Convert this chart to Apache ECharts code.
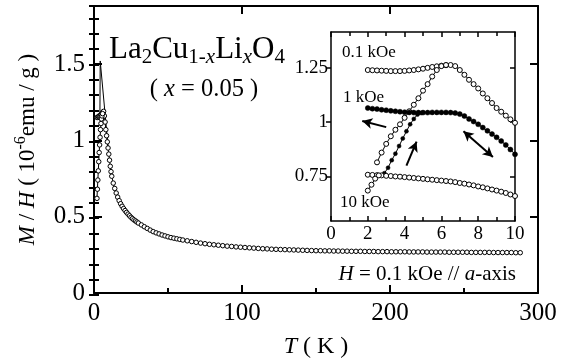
<!DOCTYPE html>
<html>
<head>
<meta charset="utf-8">
<script src="https://cdn.jsdelivr.net/npm/echarts@6/dist/echarts.min.js"></script>
<style>
  html, body { margin: 0; padding: 0; background: #fff; }
  #chart { width: 574px; height: 364px; }
</style>
</head>
<body>
<div id="chart"></div>
<script>
// main panel: M/H vs T (0.1 kOe), field cooled branch + high T
const fcT = [2, 2.5, 3, 3.5, 4, 4.5, 5, 5.5, 6, 6.5, 7, 7.5, 8, 8.5, 9, 9.5, 10, 10.5, 11, 11.5, 12,
  13, 14, 15, 16, 17, 18, 19, 20, 21, 22, 23, 24, 25, 26, 27, 28, 29, 30,
  32, 34, 36, 38, 40, 42, 44, 46, 48, 50, 52, 54, 56, 58, 60,
  63, 66, 69, 72, 75, 78, 81, 84, 87, 90, 93, 96, 99, 102, 105, 108, 111, 114, 117, 120,
  123, 126, 129, 132, 135, 138, 141, 144, 147, 150, 153, 156, 159, 162, 165, 168, 171, 174, 177, 180,
  183, 186, 189, 192, 195, 198, 201, 204, 207, 210, 213, 216, 219, 222, 225, 228, 231, 234, 237, 240,
  243, 246, 249, 252, 255, 258, 261, 264, 267, 270, 273, 276, 279, 282, 285, 288];
const fcM = [1.15, 1.15, 1.155, 1.16, 1.16, 1.165, 1.17, 1.18, 1.185, 1.19, 1.16, 1.12, 1.07, 1.03, 0.99, 0.95, 0.91, 0.87, 0.83, 0.795, 0.765,
  0.72, 0.685, 0.655, 0.628, 0.605, 0.585, 0.568, 0.553, 0.54, 0.528, 0.517, 0.506, 0.496, 0.487, 0.479, 0.472, 0.465, 0.458,
  0.446, 0.434, 0.423, 0.412, 0.402, 0.394, 0.387, 0.38, 0.374, 0.368, 0.363, 0.359, 0.355, 0.351, 0.347,
  0.342, 0.337, 0.332, 0.327, 0.323, 0.319, 0.316, 0.313, 0.31, 0.307, 0.305, 0.302, 0.3, 0.298, 0.296, 0.294, 0.292, 0.29, 0.289, 0.287,
  0.286, 0.285, 0.284, 0.283, 0.282, 0.281, 0.28, 0.279, 0.278, 0.277, 0.277, 0.276, 0.276, 0.275, 0.275, 0.274, 0.274, 0.273, 0.273, 0.273,
  0.272, 0.272, 0.272, 0.271, 0.271, 0.271, 0.27, 0.27, 0.27, 0.27, 0.269, 0.269, 0.269, 0.269, 0.268, 0.268, 0.268, 0.268, 0.268, 0.267,
  0.267, 0.267, 0.267, 0.267, 0.266, 0.266, 0.266, 0.266, 0.266, 0.265, 0.265, 0.265, 0.265, 0.265, 0.264, 0.264];
// zero field cooled branch
const zfcT = [2, 2.3, 2.6, 2.9, 3.2, 3.5, 3.8, 4.1, 4.4, 4.7, 5, 5.4, 5.8];
const zfcM = [0.62, 0.68, 0.74, 0.8, 0.86, 0.92, 0.97, 1.02, 1.07, 1.11, 1.14, 1.16, 1.175];
// thin line up to the spike
const spikeT = [4, 4.2, 9.6];
const spikeM = [1.16, 1.52, 0.95];

// inset: FC curves share one T grid
const insT = [2, 2.25, 2.5, 2.75, 3, 3.25, 3.5, 3.75, 4, 4.25, 4.5, 4.75, 5, 5.25, 5.5, 5.75, 6,
  6.25, 6.5, 6.75, 7, 7.25, 7.5, 7.75, 8, 8.25, 8.5, 8.75, 9, 9.25, 9.5, 9.75, 10];
const fc01 = [1.24, 1.239, 1.238, 1.237, 1.236, 1.235, 1.235, 1.235, 1.236, 1.238, 1.24, 1.243, 1.246, 1.25, 1.254, 1.257, 1.26,
  1.262, 1.263, 1.258, 1.24, 1.218, 1.195, 1.175, 1.155, 1.132, 1.11, 1.088, 1.065, 1.048, 1.03, 1.013, 0.997];
const fc1 = [1.065, 1.062, 1.06, 1.057, 1.055, 1.052, 1.05, 1.048, 1.046, 1.045, 1.044, 1.044, 1.044, 1.044, 1.045, 1.045, 1.045,
  1.045, 1.044, 1.042, 1.037, 1.028, 1.015, 1.003, 0.99, 0.975, 0.96, 0.945, 0.93, 0.913, 0.895, 0.874, 0.852];
const fc10 = [0.758, 0.757, 0.756, 0.755, 0.753, 0.752, 0.75, 0.749, 0.747, 0.745, 0.743, 0.741, 0.739, 0.737, 0.735, 0.733, 0.731,
  0.729, 0.727, 0.724, 0.72, 0.717, 0.713, 0.709, 0.704, 0.7, 0.695, 0.69, 0.685, 0.68, 0.674, 0.667, 0.66];
const zfc01T = [2.5, 2.75, 3, 3.25, 3.5, 3.75, 4, 4.25, 4.5, 4.75, 5, 5.25, 5.5, 5.75, 6, 6.25];
const zfc01 = [0.815, 0.86, 0.9, 0.935, 0.965, 0.99, 1.02, 1.05, 1.08, 1.11, 1.145, 1.175, 1.21, 1.24, 1.258, 1.263];
const zfc1T = [2.9, 3.1, 3.3, 3.5, 3.7, 3.9, 4.1, 4.3, 4.5, 4.7, 4.9];
const zfc1 = [0.765, 0.79, 0.825, 0.855, 0.89, 0.925, 0.958, 0.99, 1.015, 1.035, 1.042];
const zfc10T = [2, 2.2, 2.4, 2.6];
const zfc10 = [0.685, 0.712, 0.74, 0.755];

// tick values
const mainXTicks = [0, 100, 200, 300];
const mainYTicks = [0, 0.5, 1, 1.5];
const insYTicks = [0.75, 1, 1.25];

const serif = '"Liberation Serif", "DejaVu Serif", serif';
const black = '#000';

function pairs(xs, ys) {
  return xs.map((x, i) => [x, ys[i]]);
}

function openSeries(xi, yi, xs, ys, size) {
  return {
    type: 'line', xAxisIndex: xi, yAxisIndex: yi,
    data: pairs(xs, ys),
    symbol: 'circle', symbolSize: size,
    itemStyle: { color: '#fff', borderColor: black, borderWidth: 1 },
    lineStyle: { color: black, width: 1 },
    silent: true
  };
}

function filledSeries(xi, yi, xs, ys, size) {
  return {
    type: 'line', xAxisIndex: xi, yAxisIndex: yi,
    data: pairs(xs, ys),
    symbol: 'circle', symbolSize: size,
    itemStyle: { color: black, borderColor: black, borderWidth: 0.5 },
    lineStyle: { color: black, width: 1 },
    silent: true
  };
}

const lineStyle2 = { color: black, width: 2 };
const insLine = { color: black, width: 1.5 };
const noSplit = { show: false };

const chart = echarts.init(document.getElementById('chart'));

const option = {
  animation: false,
  backgroundColor: '#fff',
  grid: [
    { left: 94, top: 6, right: 36, bottom: 69 },
    { left: 331, top: 32, width: 184, height: 189, show: true, backgroundColor: '#fff', borderWidth: 0 },
    { left: 94, top: 6, right: 36, bottom: 69 }
  ],
  xAxis: [
    {
      gridIndex: 0, type: 'value', position: 'bottom', min: 0, max: 300, interval: 100,
      axisLine: { onZero: false, lineStyle: lineStyle2 },
      axisTick: { inside: true, length: 8, lineStyle: lineStyle2 },
      minorTick: { show: true, splitNumber: 2, length: 5, lineStyle: lineStyle2 },
      splitLine: noSplit,
      axisLabel: { customValues: mainXTicks, color: black, fontFamily: serif, fontSize: 25, margin: 8 },
      name: '{i|T} ( K )', nameLocation: 'middle', nameGap: 42,
      nameTextStyle: { color: black, fontFamily: serif, fontSize: 24,
        rich: { i: { fontStyle: 'italic', fontFamily: serif, fontSize: 24, color: black } } }
    },
    {
      gridIndex: 0, type: 'value', position: 'top', min: 0, max: 300, interval: 100,
      axisLine: { onZero: false, lineStyle: lineStyle2 },
      axisTick: { inside: true, length: 8, lineStyle: lineStyle2 },
      splitLine: noSplit, axisLabel: { show: false }
    },
    {
      gridIndex: 1, type: 'value', position: 'bottom', min: 0, max: 10, interval: 2,
      axisLine: { onZero: false, lineStyle: insLine },
      axisTick: { inside: true, length: 5, lineStyle: insLine },
      minorTick: { show: true, splitNumber: 2, length: 4, lineStyle: insLine },
      splitLine: noSplit,
      axisLabel: { color: black, fontFamily: serif, fontSize: 19, margin: 4 }
    },
    {
      gridIndex: 1, type: 'value', position: 'top', min: 0, max: 10, interval: 2,
      axisLine: { onZero: false, lineStyle: insLine },
      axisTick: { inside: true, length: 5, lineStyle: insLine },
      minorTick: { show: true, splitNumber: 2, length: 4, lineStyle: insLine },
      splitLine: noSplit, axisLabel: { show: false }
    },
    { gridIndex: 2, type: 'value', min: 0, max: 300, show: false },
    { gridIndex: 2, type: 'value', min: 0, max: 300, show: false, position: 'top' }
  ],
  yAxis: [
    {
      gridIndex: 0, type: 'value', position: 'left', min: 0, max: 1.88,
      axisLine: { onZero: false, lineStyle: lineStyle2 },
      axisTick: { customValues: mainYTicks, inside: true, length: 8, lineStyle: lineStyle2 },
      splitLine: noSplit,
      axisLabel: { customValues: mainYTicks, color: black, fontFamily: serif, fontSize: 25, margin: 9 },
      name: '{i|M} / {i|H} ( 10{sup|-6}emu / g )', nameLocation: 'middle', nameGap: 50,
      nameTextStyle: { color: black, fontFamily: serif, fontSize: 23, lineHeight: 30,
        rich: {
          i: { fontStyle: 'italic', fontFamily: serif, fontSize: 23, color: black },
          sup: { fontFamily: serif, fontSize: 16, color: black, verticalAlign: 'top' }
        } }
    },
    {
      gridIndex: 0, type: 'value', position: 'right', min: 0, max: 1.88,
      axisLine: { onZero: false, lineStyle: lineStyle2 },
      axisTick: { customValues: mainYTicks, inside: true, length: 8, lineStyle: lineStyle2 },
      splitLine: noSplit, axisLabel: { show: false }
    },
    {
      gridIndex: 1, type: 'value', position: 'left', min: 0.545, max: 1.415,
      axisLine: { onZero: false, lineStyle: insLine },
      axisTick: { customValues: insYTicks, inside: false, length: 5, lineStyle: insLine },
      splitLine: noSplit,
      axisLabel: { customValues: insYTicks, color: black, fontFamily: serif, fontSize: 19, margin: 3 }
    },
    {
      gridIndex: 1, type: 'value', position: 'right', min: 0.545, max: 1.415,
      axisLine: { onZero: false, lineStyle: insLine },
      axisTick: { customValues: insYTicks, inside: true, length: 5, lineStyle: insLine },
      splitLine: noSplit, axisLabel: { show: false }
    },
    // minor ticks of the main panel (0.1 steps)
    {
      gridIndex: 2, type: 'value', position: 'left', min: 0, max: 1.88, interval: 0.1,
      axisLine: { show: false },
      axisTick: { inside: true, length: 5, lineStyle: lineStyle2 },
      splitLine: noSplit, axisLabel: { show: false }
    },
    {
      gridIndex: 2, type: 'value', position: 'right', min: 0, max: 1.88, interval: 0.1,
      axisLine: { show: false },
      axisTick: { inside: true, length: 5, lineStyle: lineStyle2 },
      splitLine: noSplit, axisLabel: { show: false }
    }
  ],
  series: [
    openSeries(0, 0, fcT, fcM, 4.5),
    openSeries(0, 0, zfcT, zfcM, 4.5),
    {
      type: 'line', xAxisIndex: 0, yAxisIndex: 0, data: pairs(spikeT, spikeM),
      symbol: 'none', lineStyle: { color: black, width: 1 }, silent: true
    },
    openSeries(2, 2, insT, fc01, 5),
    openSeries(2, 2, zfc01T, zfc01, 5),
    filledSeries(2, 2, insT, fc1, 5),
    filledSeries(2, 2, zfc1T, zfc1, 4),
    openSeries(2, 2, insT, fc10, 5),
    openSeries(2, 2, zfc10T, zfc10, 5),
    {
      type: 'line', xAxisIndex: 2, yAxisIndex: 2, data: [], silent: true,
      markLine: {
        silent: true, animation: false,
        symbol: ['none', 'arrow'], symbolSize: [8, 10],
        label: { show: false },
        lineStyle: { color: black, width: 2, type: 'solid' },
        data: [
          [{ coord: [3.0, 0.977], symbol: 'none' }, { coord: [1.7, 1.005], symbol: 'arrow' }],
          [{ coord: [4.1, 0.8], symbol: 'none' }, { coord: [4.65, 0.91], symbol: 'arrow' }],
          [{ coord: [7.2, 0.958], symbol: 'arrow' }, { coord: [8.8, 0.84], symbol: 'arrow' }]
        ]
      }
    }
  ],
  graphic: [
    {
      type: 'text', x: 109, y: 50, silent: true,
      style: {
        text: 'La{s|2}Cu{s|1-}{si|x}Li{si|x}O{s|4}',
        fontFamily: serif, fontSize: 31, fill: black, verticalAlign: 'middle', align: 'left',
        lineHeight: 36,
        rich: {
          s: { fontFamily: serif, fontSize: 21, fill: black, verticalAlign: 'bottom' },
          si: { fontFamily: serif, fontSize: 21, fill: black, fontStyle: 'italic', verticalAlign: 'bottom' }
        }
      }
    },
    {
      type: 'text', x: 204, y: 90, silent: true,
      style: {
        text: '( {i|x} = 0.05 )', fontFamily: serif, fontSize: 24.5, fill: black,
        align: 'center', verticalAlign: 'middle',
        rich: { i: { fontFamily: serif, fontSize: 24.5, fill: black, fontStyle: 'italic' } }
      }
    },
    {
      type: 'text', x: 516, y: 274, silent: true,
      style: {
        text: '{i|H} = 0.1 kOe // {i|a}-axis', fontFamily: serif, fontSize: 21, fill: black,
        align: 'right', verticalAlign: 'middle',
        rich: { i: { fontFamily: serif, fontSize: 21, fill: black, fontStyle: 'italic' } }
      }
    },
    { type: 'text', x: 342, y: 53, silent: true,
      style: { text: '0.1 kOe', fontFamily: serif, fontSize: 17, fill: black, verticalAlign: 'middle' } },
    { type: 'text', x: 343, y: 98, silent: true,
      style: { text: '1 kOe', fontFamily: serif, fontSize: 17, fill: black, verticalAlign: 'middle' } },
    { type: 'text', x: 340, y: 203, silent: true,
      style: { text: '10 kOe', fontFamily: serif, fontSize: 17, fill: black, verticalAlign: 'middle' } }
  ]
};

chart.setOption(option);
</script>
</body>
</html>
